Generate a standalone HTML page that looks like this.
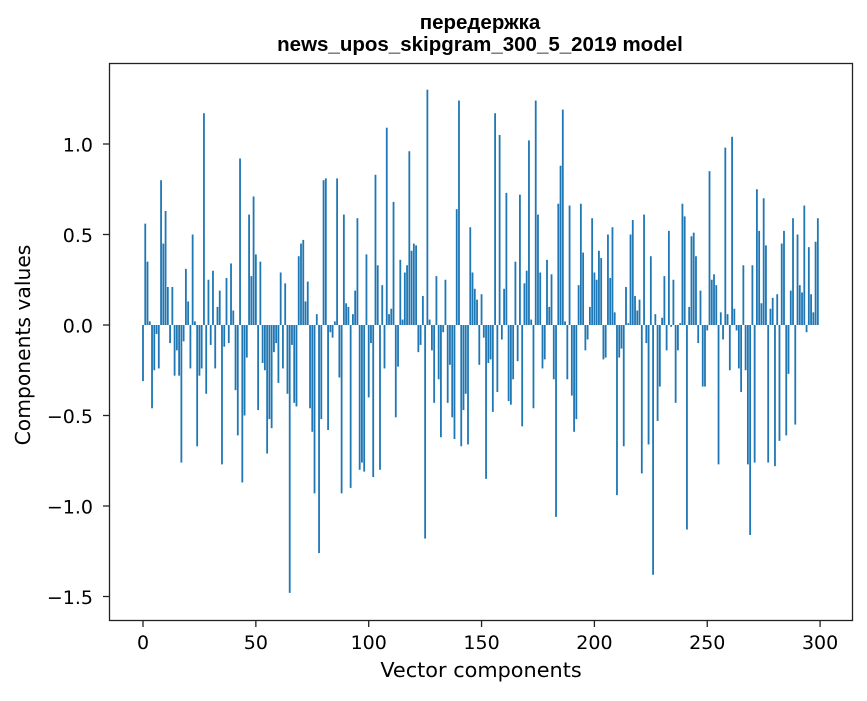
<!DOCTYPE html>
<html><head><meta charset="utf-8"><style>
html,body{margin:0;padding:0;background:#fff;}
svg text{font-family:"DejaVu Sans","Liberation Sans",sans-serif;fill:#000;}
svg text.ttl{font-family:"Liberation Sans","DejaVu Sans",sans-serif;}
</style></head><body>
<svg id="chart" width="867" height="696" viewBox="0 0 867 696" xmlns="http://www.w3.org/2000/svg">
<rect x="0" y="0" width="867" height="696" fill="#fff"/>
<text class="ttl" x="480" y="29" text-anchor="middle" font-size="20.5" font-weight="bold">передержка</text>
<text class="ttl" x="480" y="51" text-anchor="middle" font-size="20.5" font-weight="bold">news_upos_skipgram_300_5_2019 model</text>
<g id="bars"></g>
<rect x="109.5" y="63.5" width="743" height="557" fill="none" stroke="#222" stroke-width="1.3"/>
<g id="xticks"></g>
<g id="yticks"></g>
<text x="481" y="677" text-anchor="middle" font-size="20.8">Vector components</text>
<text x="0" y="0" transform="translate(30,345) rotate(-90)" text-anchor="middle" font-size="20.3">Components values</text>
</svg>
<script>
const values = [
-0.31,0.56,0.35,0.02,-0.46,-0.25,-0.05,-0.24,0.80,0.45,
0.63,0.21,-0.10,0.21,-0.28,-0.14,-0.28,-0.76,-0.09,0.31,
0.13,-0.24,0.50,0.02,-0.67,-0.28,-0.24,1.17,-0.38,0.25,
-0.11,0.30,-0.24,0.10,0.19,-0.77,-0.12,0.26,-0.10,0.34,
0.08,-0.36,-0.61,0.92,-0.87,-0.50,-0.18,0.61,0.27,0.71,
0.39,-0.47,0.35,-0.21,-0.25,-0.71,-0.52,-0.57,-0.15,-0.10,
-0.32,0.29,-0.24,0.23,-0.38,-1.48,-0.11,-0.43,-0.45,0.38,
0.45,0.47,0.13,0.24,-0.46,-0.59,-0.93,0.06,-1.26,-0.52,
0.80,0.81,-0.58,-0.04,-0.07,0.02,0.81,-0.29,-0.93,0.61,
0.12,0.10,-0.90,0.06,0.19,0.59,-0.80,-0.76,-0.81,0.39,
-0.40,-0.10,-0.84,0.83,0.33,-0.80,0.22,-0.24,1.09,0.06,
0.09,0.68,-0.51,-0.23,0.36,0.03,0.29,0.33,0.96,0.41,
0.45,0.44,-0.15,-0.11,0.16,-1.18,1.30,0.03,-0.14,-0.43,
0.27,-0.30,-0.62,-0.04,0.25,-0.43,-0.22,-0.51,-0.63,0.64,
1.24,-0.67,-0.47,-0.38,-0.66,0.54,0.29,0.20,0.14,-0.22,
0.17,-0.07,-0.85,-0.21,-0.19,-0.48,1.17,-0.37,1.05,-0.08,
0.20,0.73,-0.42,-0.44,-0.30,0.35,-0.20,0.72,-0.56,0.23,
0.30,1.02,0.03,-0.46,1.24,0.61,0.29,-0.24,-0.19,0.36,
0.10,0.28,-0.30,-1.06,0.67,0.88,1.19,0.02,-0.30,0.66,
-0.39,-0.59,-0.52,0.22,0.67,0.40,-0.14,-0.08,0.10,0.59,
0.29,0.25,0.41,0.37,-0.19,-0.18,0.50,0.26,0.54,0.07,
-0.94,-0.18,-0.13,-0.67,0.21,0.01,0.50,0.58,0.16,0.08,
0.14,-0.82,0.61,-0.10,-0.66,0.38,-1.38,0.06,-0.53,-0.34,
0.04,0.27,-0.14,0.52,-0.01,0.25,-0.43,-0.14,0.01,0.67,
0.60,-1.13,0.10,0.49,0.51,0.38,-0.10,0.19,-0.34,-0.34,
-0.03,0.85,0.25,0.28,0.22,-0.77,0.07,-0.08,0.98,0.06,
-0.25,1.04,0.09,-0.03,-0.24,-0.37,0.33,-0.25,-0.77,-1.16,
0.33,-0.76,0.75,0.52,0.12,0.70,0.44,-0.76,0.09,0.15,
-0.78,0.17,-0.64,0.45,0.52,-0.61,-0.27,0.19,0.59,-0.55,
0.50,0.22,0.18,0.66,-0.04,0.43,0.17,0.07,0.46,0.59
];
const xTicks = [0,50,100,150,200,250,300];
const yTicks = [-1.5,-1.0,-0.5,0.0,0.5,1.0];
const yTickLabels = ["\u22121.5","\u22121.0","\u22120.5","0.0","0.5","1.0"];

const NS = "http://www.w3.org/2000/svg";
function xScale(v){ return 143 + 2.257*v; }
function yScale(v){ return 325 - 181*v; }

const barsG = document.getElementById('bars');
values.forEach(function(v,i){
  const r = document.createElementNS(NS,'rect');
  const cx = xScale(i);
  const y0 = yScale(0), y1 = yScale(v);
  r.setAttribute('x', (cx-0.9).toFixed(2));
  r.setAttribute('width', '1.8');
  r.setAttribute('y', Math.min(y0,y1).toFixed(2));
  r.setAttribute('height', Math.max(0.3,Math.abs(y1-y0)).toFixed(2));
  r.setAttribute('fill', '#1f77b4');
  
  
  barsG.appendChild(r);
});

const xg = document.getElementById('xticks');
xTicks.forEach(function(t){
  const x = xScale(t);
  const l = document.createElementNS(NS,'line');
  l.setAttribute('x1',x); l.setAttribute('x2',x);
  l.setAttribute('y1',621); l.setAttribute('y2',627);
  l.setAttribute('stroke','#222');
  l.setAttribute('stroke-width','1.3');
  
  
  xg.appendChild(l);
  const tx = document.createElementNS(NS,'text');
  tx.setAttribute('x',x); tx.setAttribute('y',649);
  tx.setAttribute('text-anchor','middle'); tx.setAttribute('font-size','19');
  tx.textContent = String(t);
  
  
  xg.appendChild(tx);
});

const yg = document.getElementById('yticks');
yTicks.forEach(function(t,i){
  const y = yScale(t);
  const l = document.createElementNS(NS,'line');
  l.setAttribute('x1',103); l.setAttribute('x2',109);
  l.setAttribute('y1',y); l.setAttribute('y2',y);
  l.setAttribute('stroke','#222');
  l.setAttribute('stroke-width','1.3');
  
  
  yg.appendChild(l);
  const tx = document.createElementNS(NS,'text');
  tx.setAttribute('x',93); tx.setAttribute('y',y+7.5);
  tx.setAttribute('text-anchor','end'); tx.setAttribute('font-size','19');
  tx.textContent = yTickLabels[i];
  
  
  yg.appendChild(tx);
});
</script>
</body></html>
